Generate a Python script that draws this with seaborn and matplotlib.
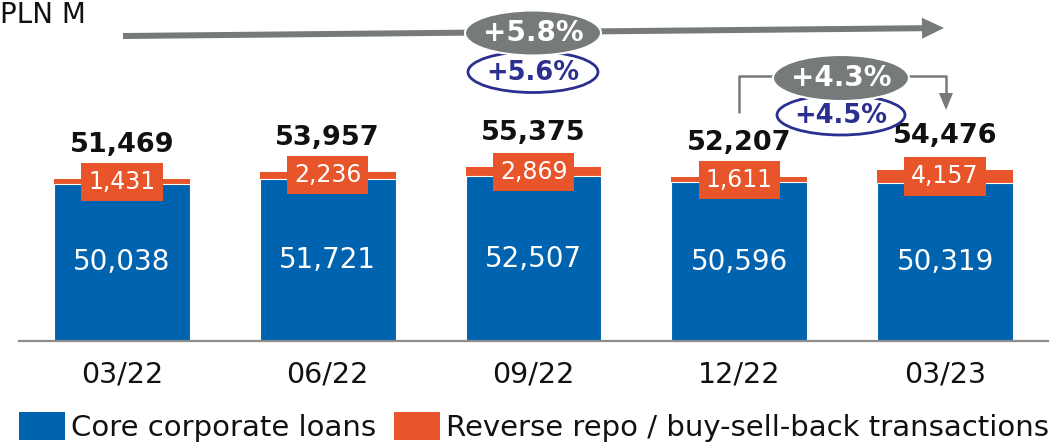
import matplotlib
matplotlib.use("Agg")
import matplotlib.pyplot as plt
import seaborn as sns
import pandas as pd
from matplotlib.patches import Ellipse, Patch

periods = ["03/22", "06/22", "09/22", "12/22", "03/23"]
core_loans = [50038, 51721, 52507, 50596, 50319]
reverse_repo = [1431, 2236, 2869, 1611, 4157]
totals = [51469, 53957, 55375, 52207, 54476]
legend_labels = ["Core corporate loans", "Reverse repo / buy-sell-back transactions"]
growth_long = ["+5.8%", "+5.6%"]
growth_short = ["+4.3%", "+4.5%"]
unit_label = "PLN M"

BLUE = "#0063AF"
ORANGE = "#E9552B"
GRAY = "#767A7B"
NAVY = "#2B2F8F"
TXT = "#111111"

sns.set_theme(style="white")
plt.rcParams['font.family'] = ['DejaVu Sans']

df = pd.DataFrame({"period": periods, "core": core_loans, "repo": reverse_repo, "total": totals})

W, H = 1053, 442
fig = plt.figure(figsize=(W / 100, H / 100), dpi=100)
ax = fig.add_axes([19 / W, 101 / H, 1029 / W, 341 / H])

sns.barplot(data=df, x="period", y="total", color=ORANGE, width=0.66, saturation=1,
            ax=ax, edgecolor="none", linewidth=0)
sns.barplot(data=df, x="period", y="core", color=BLUE, width=0.66, saturation=1,
            ax=ax, edgecolor="white", linewidth=0.8)

ax.set_xlim(-0.5, 4.5)
ax.set_ylim(0, 341 / 0.00314)
ax.set_xlabel("")
ax.set_ylabel("")
ax.set_yticks([])
for s in ["top", "left", "right"]:
    ax.spines[s].set_visible(False)
ax.spines["bottom"].set_color("#8C8C8C")
ax.spines["bottom"].set_linewidth(1.6)
ax.tick_params(axis="x", length=0, pad=14, labelsize=20.5, labelcolor=TXT)

for i, (c, r, t) in enumerate(zip(core_loans, reverse_repo, totals)):
    ax.text(i, c / 2, f"{c:,}", ha="center", va="center", color="white", fontsize=20)
    ax.text(i, c + r / 2, f"{r:,}", ha="center", va="center", color="white", fontsize=17,
            bbox=dict(boxstyle="square,pad=0.3", fc=ORANGE, ec="none"))
    ax.annotate(f"{t:,}", (i, t), xytext=(0, 34), textcoords="offset pixels",
                ha="center", va="center", fontsize=19.5, fontweight="bold", color=TXT)

# overlay for annotations (pixel coordinates)
ov = fig.add_axes([0, 0, 1, 1], zorder=5)
ov.set_xlim(0, W)
ov.set_ylim(H, 0)
ov.axis("off")
ov.patch.set_alpha(0)

ov.text(0, 23, unit_label, ha="left", va="baseline", fontsize=20, color=TXT)

# long arrow
ov.arrow(123, 36, 944 - 123, 28 - 36, width=6, head_width=21, head_length=22,
         length_includes_head=True, color=GRAY, lw=0)
ov.add_patch(Ellipse((533, 72), 130, 41, fc="white", ec=NAVY, lw=2, zorder=3))
ov.add_patch(Ellipse((533, 33), 136, 45, fc=GRAY, ec="white", lw=1.5, zorder=4))
ov.text(533, 33, growth_long[0], ha="center", va="center", fontsize=20, fontweight="bold",
        color="white", zorder=5)
ov.text(533, 73, growth_long[1], ha="center", va="center", fontsize=18.5, fontweight="bold",
        color=NAVY, zorder=5)

# bracket arrow
ov.plot([739, 739, 946, 946], [113, 76, 76, 95], color=GRAY, lw=1.8, solid_capstyle="butt")
ov.arrow(946, 92, 0, 18, width=0.1, head_width=14, head_length=17,
         length_includes_head=True, color=GRAY, lw=0)
ov.add_patch(Ellipse((841, 115), 128, 40, fc="white", ec=NAVY, lw=2, zorder=3))
ov.add_patch(Ellipse((841, 78), 136, 46, fc=GRAY, ec="white", lw=1.5, zorder=4))
ov.text(841, 78, growth_short[0], ha="center", va="center", fontsize=20, fontweight="bold",
        color="white", zorder=5)
ov.text(841, 116, growth_short[1], ha="center", va="center", fontsize=18.5, fontweight="bold",
        color=NAVY, zorder=5)

handles = [Patch(fc=BLUE, ec="none"), Patch(fc=ORANGE, ec="none")]
fig.legend(handles, legend_labels, loc="lower left", bbox_to_anchor=(13 / W, -6 / H),
           ncol=2, frameon=False, fontsize=21, handlelength=1.58, handleheight=1.1,
           handletextpad=0.22, columnspacing=0.6, borderaxespad=0, borderpad=0.2,
           labelcolor=TXT)

fig.savefig("out.png", dpi=100)
